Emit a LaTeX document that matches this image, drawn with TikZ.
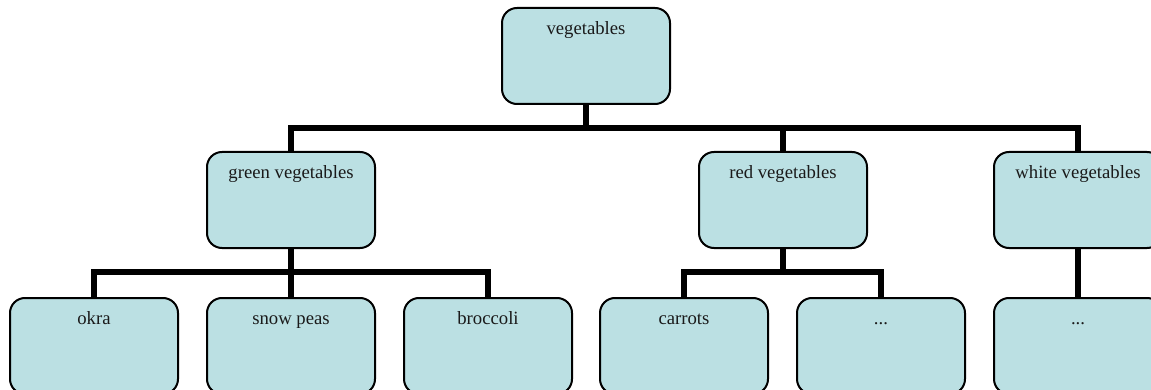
\documentclass[tikz,border=0pt]{standalone}
\usepackage{fontspec}
\setmainfont{Liberation Serif}
\definecolor{boxfill}{HTML}{BBE0E3}
\definecolor{txt}{HTML}{1A1A1A}
\begin{document}
\begin{tikzpicture}[x=1pt,y=-1pt,
  box/.style={draw=black, line width=2pt, fill=boxfill, rounded corners=15pt,
    minimum width=168pt, minimum height=96pt, inner sep=0pt, anchor=north},
  lbl/.style={anchor=base, inner sep=0pt, text=txt, font=\fontsize{18.7}{22}\selectfont},
  conn/.style={line width=6pt, line join=miter, line cap=butt}]
\clip (0,0) rectangle (1151,390);
\fill[white] (0,0) rectangle (1151,390);
% top level
\node[box] (veg) at (586,7) {};
% second level
\node[box] (green) at (291,151) {};
\node[box] (red) at (783,151) {};
\node[box] (white) at (1078,151) {};
% third level
\node[box] (okra) at (94,297) {};
\node[box] (peas) at (291,297) {};
\node[box] (broc) at (488,297) {};
\node[box] (carr) at (684,297) {};
\node[box] (dotsa) at (881,297) {};
\node[box] (dotsb) at (1078,297) {};
% labels
\node[lbl] (tveg) at ([yshift=-28pt]veg.north) {vegetables};
\node[lbl] (tgreen) at ([yshift=-28pt]green.north) {green vegetables};
\node[lbl] (tred) at ([yshift=-28pt]red.north) {red vegetables};
\node[lbl] (twhite) at ([yshift=-28pt]white.north) {white vegetables};
\node[lbl] (tokra) at ([yshift=-27pt]okra.north) {okra};
\node[lbl] (tpeas) at ([yshift=-27pt]peas.north) {snow peas};
\node[lbl] (tbroc) at ([yshift=-27pt]broc.north) {broccoli};
\node[lbl] (tcarr) at ([yshift=-27pt]carr.north) {carrots};
\node[lbl] (tdotsa) at ([yshift=-27pt]dotsa.north) {...};
\node[lbl] (tdotsb) at ([yshift=-27pt]dotsb.north) {...};
% bus coordinates
\coordinate (busA) at (0,128);
\coordinate (busG) at (0,272);
\coordinate (busR) at (0,272);
% connectors
\draw[conn] (veg.south) -- (veg.south |- busA);
\draw[conn] (green.north) -- (green.north |- busA) -- (white.north |- busA) -- (white.north);
\draw[conn] (red.north) -- (red.north |- busA);
\draw[conn] (green.south) -- (green.south |- busG);
\draw[conn] (okra.north) -- (okra.north |- busG) -- (broc.north |- busG) -- (broc.north);
\draw[conn] (peas.north) -- (peas.north |- busG);
\draw[conn] (red.south) -- (red.south |- busR);
\draw[conn] (carr.north) -- (carr.north |- busR) -- (dotsa.north |- busR) -- (dotsa.north);
\draw[conn] (white.south) -- (dotsb.north);
\end{tikzpicture}
\end{document}
